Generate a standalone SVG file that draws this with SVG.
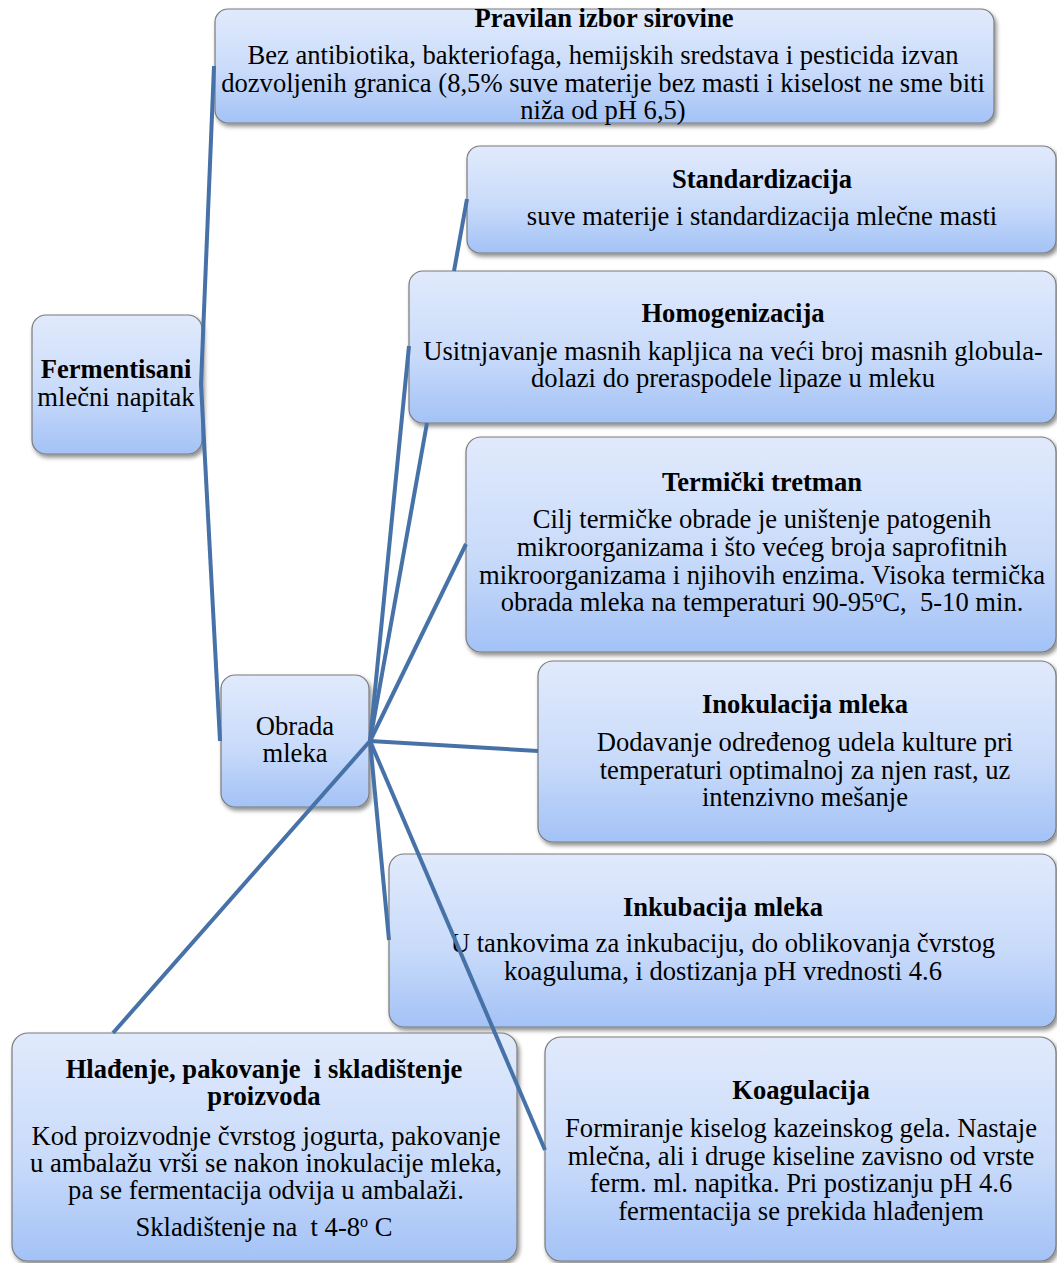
<svg xmlns="http://www.w3.org/2000/svg" width="1057" height="1263" viewBox="0 0 1057 1263">
<defs>
<linearGradient id="g" x1="0" y1="0" x2="0" y2="1">
<stop offset="0" stop-color="#e1eafc"/>
<stop offset="0.55" stop-color="#c9dbfa"/>
<stop offset="1" stop-color="#a3c2f6"/>
</linearGradient>
<filter id="sh" x="-10%" y="-10%" width="125%" height="130%">
<feDropShadow dx="2" dy="3" stdDeviation="2" flood-color="#000" flood-opacity="0.45"/>
</filter>
</defs>
<style>
.box{fill:url(#g);stroke:#7b7b7b;stroke-width:1.2;filter:url(#sh)}
text{font-family:"Liberation Serif","Times New Roman",serif;font-size:26.6px;fill:#000;text-anchor:middle;white-space:pre}
.t{font-weight:bold}
.sup{font-size:16px}
.c{stroke:#4672a8;stroke-width:4;fill:none;stroke-linecap:butt}
</style>
<rect width="1057" height="1263" fill="#fff"/>

<g id="fermentisani">
<rect class="box" x="32" y="315" width="170" height="139" rx="14"/>
<text x="116" y="378" class="t">Fermentisani</text>
<text x="116" y="406">mlečni napitak</text>
</g>

<g id="pravilan">
<rect class="box" x="215" y="9" width="779" height="114" rx="13"/>
<text x="604" y="27" class="t">Pravilan izbor sirovine</text>
<text x="603" y="64">Bez antibiotika, bakteriofaga, hemijskih sredstava i pesticida izvan</text>
<text x="603" y="92">dozvoljenih granica (8,5% suve materije bez masti i kiselost ne sme biti</text>
<text x="603" y="119">niža od pH 6,5)</text>
</g>

<g id="standardizacija">
<rect class="box" x="467" y="146" width="589" height="107" rx="13"/>
<text x="762" y="188" class="t">Standardizacija</text>
<text x="762" y="225">suve materije i standardizacija mlečne masti</text>
</g>

<g id="homogenizacija">
<rect class="box" x="409" y="271" width="647" height="152" rx="14"/>
<text x="733" y="322" class="t">Homogenizacija</text>
<text x="733" y="360">Usitnjavanje masnih kapljica na veći broj masnih globula-</text>
<text x="733" y="387">dolazi do preraspodele lipaze u mleku</text>
</g>

<g id="termicki">
<rect class="box" x="466" y="437" width="590" height="215" rx="15"/>
<text x="762" y="491" class="t">Termički tretman</text>
<text x="762" y="528">Cilj termičke obrade je uništenje patogenih</text>
<text x="762" y="556">mikroorganizama i što većeg broja saprofitnih</text>
<text x="762" y="584">mikroorganizama i njihovih enzima. Visoka termička</text>
<text x="762" y="611">obrada mleka na temperaturi 90-95<tspan class="sup" dy="-9">o</tspan><tspan dy="9">C,  5-10 min.</tspan></text>
</g>

<g id="obrada">
<rect class="box" x="221" y="675" width="148" height="132" rx="14"/>
<text x="295" y="735">Obrada</text>
<text x="295" y="762">mleka</text>
</g>

<g id="inokulacija">
<rect class="box" x="538" y="661" width="518" height="181" rx="15"/>
<text x="805" y="713" class="t">Inokulacija mleka</text>
<text x="805" y="751">Dodavanje određenog udela kulture pri</text>
<text x="805" y="779">temperaturi optimalnoj za njen rast, uz</text>
<text x="805" y="806">intenzivno mešanje</text>
</g>

<g id="inkubacija">
<rect class="box" x="389" y="854" width="667" height="173" rx="15"/>
<text x="723" y="916" class="t">Inkubacija mleka</text>
<text x="723" y="952">U tankovima za inkubaciju, do oblikovanja čvrstog</text>
<text x="723" y="980">koaguluma, i dostizanja pH vrednosti 4.6</text>
</g>

<g id="koagulacija">
<rect class="box" x="545" y="1037" width="511" height="224" rx="16"/>
<text x="801" y="1099" class="t">Koagulacija</text>
<text x="801" y="1137">Formiranje kiselog kazeinskog gela. Nastaje</text>
<text x="801" y="1165">mlečna, ali i druge kiseline zavisno od vrste</text>
<text x="801" y="1192">ferm. ml. napitka. Pri postizanju pH 4.6</text>
<text x="801" y="1220">fermentacija se prekida hlađenjem</text>
</g>

<g id="hladjenje">
<rect class="box" x="12" y="1033" width="505" height="228" rx="16"/>
<text x="264" y="1078" class="t">Hlađenje, pakovanje  i skladištenje</text>
<text x="264" y="1105" class="t">proizvoda</text>
<text x="266" y="1145">Kod proizvodnje čvrstog jogurta, pakovanje</text>
<text x="266" y="1172">u ambalažu vrši se nakon inokulacije mleka,</text>
<text x="266" y="1199">pa se fermentacija odvija u ambalaži.</text>
<text x="264" y="1236">Skladištenje na  t 4-8<tspan class="sup" dy="-9">o</tspan><tspan dy="9"> C</tspan></text>
</g>

<g id="connectors">
<line class="c" x1="201" y1="384" x2="214" y2="66"/>
<line class="c" x1="201" y1="384" x2="220" y2="741"/>
<line class="c" x1="370" y1="741" x2="427" y2="423"/>
<line class="c" x1="454" y1="271" x2="467" y2="199"/>
<line class="c" x1="370" y1="741" x2="409" y2="346"/>
<line class="c" x1="370" y1="741" x2="466" y2="544"/>
<line class="c" x1="370" y1="741" x2="538" y2="751"/>
<line class="c" x1="370" y1="741" x2="389" y2="940"/>
<line class="c" x1="370" y1="741" x2="545" y2="1150"/>
<line class="c" x1="370" y1="741" x2="113" y2="1033"/>
</g>
</svg>
